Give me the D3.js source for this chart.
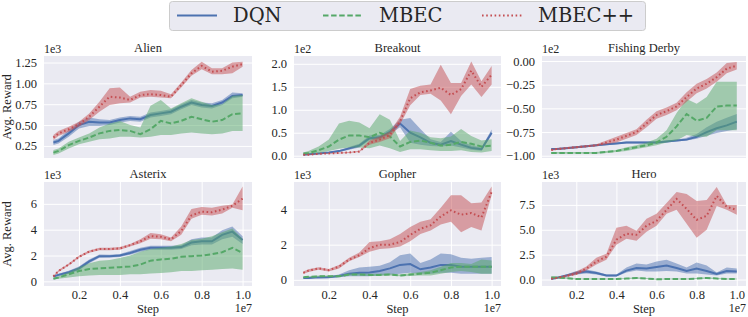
<!DOCTYPE html>
<html>
<head>
<meta charset="utf-8">
<script src="https://cdn.jsdelivr.net/npm/d3@7"></script>
<style>
  body { margin: 0; background: #fff; }
  text { font-family: "Liberation Serif", "Times New Roman", serif; fill: #262626; }
</style>
</head>
<body>
<svg id="chart" width="748" height="317"></svg>
<script>

// training steps (x 1e7)
var steps = [0.075, 0.1, 0.15, 0.2, 0.25, 0.3, 0.35, 0.4, 0.45, 0.5, 0.55, 0.6, 0.65, 0.7, 0.75, 0.8, 0.85, 0.9, 0.95, 1.0];

var methods = ["DQN", "MBEC", "MBEC++"];
var xTicks = [0.2, 0.4, 0.6, 0.8, 1.0];

// Alien (x1e3)
var alienDqn     = [.29,.31,.40,.50,.54,.53,.53,.56,.58,.57,.62,.64,.66,.72,.77,.74,.73,.77,.85,.86];
var alienDqnLo   = [.26,.28,.36,.46,.49,.49,.50,.53,.55,.54,.59,.61,.63,.69,.74,.71,.70,.74,.82,.84];
var alienDqnHi   = [.32,.34,.44,.54,.59,.57,.56,.59,.61,.60,.65,.67,.69,.75,.80,.77,.76,.80,.89,.88];
var alienMbec    = [.17,.19,.26,.31,.35,.40,.43,.44,.43,.39,.45,.55,.52,.55,.60,.57,.54,.56,.63,.64];
var alienMbecLo  = [.14,.16,.22,.27,.30,.33,.34,.36,.36,.35,.36,.38,.38,.40,.41,.40,.39,.40,.43,.43];
var alienMbecHi  = [.20,.22,.30,.35,.40,.47,.52,.55,.50,.47,.73,.80,.70,.76,.82,.78,.74,.75,.85,.86];
var alienPlus    = [.35,.40,.45,.51,.60,.72,.84,.83,.80,.86,.87,.86,.84,.98,1.12,1.21,1.14,1.15,1.20,1.23];
var alienPlusLo  = [.32,.37,.42,.48,.56,.66,.74,.76,.77,.83,.84,.83,.82,.95,1.09,1.17,1.11,1.11,1.12,1.20];
var alienPlusHi  = [.38,.43,.48,.54,.64,.78,.94,.95,.84,.90,.92,.91,.87,1.01,1.16,1.26,1.18,1.18,1.25,1.26];

// Breakout (x1e2)
var breakDqn     = [.02,.03,.05,.07,.10,.16,.22,.38,.40,.52,.70,.50,.40,.28,.24,.32,.24,.17,.14,.50];
var breakDqnLo   = [.01,.02,.04,.06,.08,.13,.18,.34,.36,.47,.62,.28,.24,.21,.20,.22,.18,.13,.11,.45];
var breakDqnHi   = [.03,.04,.06,.08,.12,.19,.26,.44,.45,.58,.78,.82,.58,.36,.30,.52,.32,.22,.18,.57];
var breakMbec    = [.05,.06,.12,.20,.35,.44,.44,.40,.50,.42,.20,.30,.33,.28,.22,.24,.30,.26,.20,.22];
var breakMbecLo  = [.03,.04,.06,.10,.15,.18,.18,.16,.22,.16,.08,.14,.14,.12,.10,.10,.12,.08,.07,.10];
var breakMbecHi  = [.07,.10,.20,.35,.70,.76,.72,.60,.90,.78,.32,.55,.50,.40,.38,.42,.58,.43,.33,.36];
var breakPlus    = [.02,.02,.04,.05,.06,.07,.09,.28,.35,.45,.75,1.25,1.38,1.42,1.48,1.32,1.45,1.85,1.50,1.76];
var breakPlusLo  = [.01,.01,.03,.04,.05,.06,.08,.24,.30,.38,.68,1.10,1.32,1.35,1.20,0.90,1.30,1.55,1.28,1.55];
var breakPlusHi  = [.03,.03,.05,.06,.07,.08,.11,.33,.42,.52,.85,1.45,1.52,1.55,1.98,1.58,1.58,2.05,1.62,1.95];

// Fishing Derby (x1e2)
var fishDqn      = [-.93,-.93,-.92,-.91,-.90,-.89,-.88,-.87,-.86,-.86,-.86,-.86,-.85,-.84,-.83,-.80,-.75,-.71,-.68,-.64];
var fishDqnLo    = [-.94,-.94,-.93,-.92,-.91,-.90,-.89,-.88,-.87,-.87,-.87,-.87,-.86,-.85,-.84,-.82,-.79,-.76,-.74,-.72];
var fishDqnHi    = [-.92,-.92,-.91,-.90,-.89,-.88,-.87,-.86,-.85,-.85,-.85,-.85,-.84,-.83,-.81,-.77,-.70,-.64,-.60,-.56];
var fishMbec     = [-.97,-.97,-.97,-.97,-.97,-.97,-.96,-.95,-.93,-.91,-.89,-.86,-.80,-.69,-.56,-.63,-.60,-.48,-.47,-.47];
var fishMbecLo   = [-.98,-.98,-.98,-.98,-.98,-.98,-.97,-.96,-.95,-.93,-.91,-.89,-.86,-.84,-.78,-.80,-.80,-.73,-.73,-.73];
var fishMbecHi   = [-.96,-.96,-.96,-.96,-.96,-.96,-.95,-.94,-.91,-.89,-.86,-.82,-.73,-.55,-.40,-.45,-.38,-.22,-.22,-.22];
var fishPlus     = [-.94,-.93,-.92,-.91,-.90,-.89,-.86,-.83,-.79,-.75,-.66,-.57,-.53,-.48,-.38,-.29,-.24,-.17,-.08,-.05];
var fishPlusLo   = [-.95,-.94,-.93,-.92,-.91,-.90,-.88,-.86,-.82,-.78,-.70,-.61,-.57,-.52,-.43,-.34,-.29,-.22,-.13,-.09];
var fishPlusHi   = [-.93,-.92,-.91,-.90,-.89,-.88,-.84,-.80,-.76,-.72,-.62,-.53,-.49,-.44,-.33,-.24,-.19,-.12,-.02,-.01];

// Asterix (x1e3)
var astDqn       = [.38,.50,.70,1.00,1.55,1.95,1.95,2.00,2.20,2.45,2.60,2.60,2.60,2.65,3.00,3.10,3.10,3.60,3.85,3.20];
var astDqnLo     = [.33,.42,.58,.85,1.40,1.82,1.85,1.88,2.05,2.30,2.45,2.45,2.45,2.50,2.80,2.85,2.85,3.25,3.45,2.90];
var astDqnHi     = [.43,.58,.82,1.15,1.70,2.08,2.05,2.12,2.35,2.60,2.75,2.75,2.75,2.80,3.25,3.40,3.40,3.95,4.25,3.50];
var astMbec      = [.20,.30,.55,.80,.95,1.00,1.05,1.10,1.15,1.30,1.60,1.70,1.75,1.90,1.95,2.00,2.10,2.25,2.60,2.20];
var astMbecLo    = [.15,.20,.30,.40,.45,.50,.50,.50,.55,.55,.60,.65,.70,.80,.80,.85,.90,.95,1.00,.90];
var astMbecHi    = [.25,.40,.70,1.10,1.40,1.60,1.65,1.80,2.00,2.30,2.50,2.60,2.70,2.90,3.20,3.30,3.50,3.80,4.10,3.30];
var astPlus      = [.38,.80,1.30,1.90,2.30,2.50,2.50,2.55,2.80,3.10,3.50,3.45,3.25,3.90,5.10,5.40,5.35,5.55,5.85,6.40];
var astPlusLo    = [.33,.72,1.22,1.82,2.22,2.40,2.40,2.45,2.70,2.95,3.30,3.25,3.10,3.60,4.85,5.15,5.10,5.25,5.70,5.50];
var astPlusHi    = [.43,.88,1.38,1.98,2.38,2.60,2.60,2.65,2.90,3.25,3.75,3.65,3.40,4.25,5.60,5.75,5.70,5.85,5.95,7.35];

// Gopher (x1e3)
var gopDqn       = [.10,.10,.14,.15,.22,.35,.40,.42,.50,.65,.85,.90,.60,.70,.85,.85,.75,.75,.75,.75];
var gopDqnLo     = [.08,.08,.11,.12,.15,.20,.20,.20,.25,.30,.35,.40,.35,.35,.40,.40,.35,.35,.35,.35];
var gopDqnHi     = [.12,.13,.17,.20,.30,.55,.70,.75,.80,1.00,1.40,1.50,.95,1.15,1.50,1.45,1.25,1.20,1.25,1.30];
var gopMbec      = [.15,.17,.20,.20,.20,.30,.30,.28,.28,.30,.25,.30,.35,.40,.55,.70,.75,.75,.75,.75];
var gopMbecLo    = [.12,.14,.16,.16,.16,.24,.24,.22,.22,.24,.20,.22,.25,.25,.35,.45,.50,.45,.35,.35];
var gopMbecHi    = [.18,.20,.24,.24,.24,.36,.36,.34,.34,.36,.30,.38,.45,.55,.75,.95,.95,.90,1.15,1.10];
var gopPlus      = [.40,.52,.65,.55,.75,1.15,1.40,1.80,2.00,2.00,2.15,2.55,2.90,3.10,3.60,3.95,3.70,3.80,3.55,5.00];
var gopPlusLo    = [.33,.44,.58,.48,.65,1.05,1.30,1.60,1.75,1.80,1.90,2.20,2.60,2.80,3.15,3.30,2.70,3.00,2.80,4.80];
var gopPlusHi    = [.47,.60,.72,.62,.85,1.25,1.55,2.15,2.20,2.30,2.60,3.00,3.30,3.45,4.10,4.80,4.80,4.35,4.40,5.30];

// Hero (x1e3)
var heroDqn      = [.05,.15,.40,.65,.80,.65,.40,.40,.90,1.15,1.10,1.25,1.40,1.15,.85,1.10,.85,.55,.85,.80];
var heroDqnLo    = [.02,.08,.30,.50,.60,.50,.30,.30,.70,.90,.80,.80,.85,.80,.60,.60,.50,.40,.60,.60];
var heroDqnHi    = [.08,.22,.50,.85,1.00,.80,.50,.50,1.20,1.60,1.50,1.80,2.00,1.60,1.20,1.70,1.40,.70,1.20,1.10];
var heroMbec     = [.20,.20,.15,.05,.05,.05,.05,.05,.10,.15,.10,.02,.05,.05,.05,.10,.15,.10,.05,.05];
var heroMbecLo   = [.10,.10,.08,.00,.00,.00,.00,.00,.05,.08,.05,-.03,.00,.00,.00,.05,.08,.05,.00,.00];
var heroMbecHi   = [.30,.30,.22,.10,.10,.10,.10,.10,.15,.22,.15,.07,.10,.10,.10,.15,.22,.15,.10,.10];
var heroPlus     = [.07,.15,.35,.60,1.10,1.80,2.30,4.00,4.60,4.50,5.40,5.90,7.00,8.10,7.10,6.00,6.40,8.40,7.30,7.00];
var heroPlusLo   = [.04,.10,.28,.45,.90,1.50,2.00,3.50,4.10,3.90,4.80,5.40,6.60,7.00,5.60,4.20,5.00,7.40,7.00,6.50];
var heroPlusHi   = [.10,.20,.45,.80,1.30,2.20,2.60,5.20,5.40,4.90,6.10,6.60,7.70,8.80,8.60,7.90,8.00,9.30,7.50,7.50];

// y tick values per game
var alienTicks = [0.25, 0.5, 0.75, 1.0, 1.25];
var breakTicks = [0, 0.5, 1.0, 1.5, 2.0];
var fishTicks  = [-1.0, -0.75, -0.5, -0.25, 0];
var astTicks   = [0, 2, 4, 6];
var gopTicks   = [0, 2, 4];
var heroTicks  = [0, 2.5, 5, 7.5];

var colors = {"DQN": "#4c72b0", "MBEC": "#55a868", "MBEC++": "#c44e52"};
var dashes = {"DQN": null, "MBEC": "5.5,2.6", "MBEC++": "1.6,2.6"};

var panels = [
    {title: "Alien", exp: "1e3", col: 0, row: 0, domain: [0.105, 1.328], ticks: alienTicks, fmt: ".2f",
     series: [[alienDqn, alienDqnLo, alienDqnHi], [alienMbec, alienMbecLo, alienMbecHi], [alienPlus, alienPlusLo, alienPlusHi]]},
    {title: "Breakout", exp: "1e2", col: 1, row: 0, domain: [-0.05, 2.17], ticks: breakTicks, fmt: ".1f",
     series: [[breakDqn, breakDqnLo, breakDqnHi], [breakMbec, breakMbecLo, breakMbecHi], [breakPlus, breakPlusLo, breakPlusHi]]},
    {title: "Fishing Derby", exp: "1e2", col: 2, row: 0, domain: [-1.024, 0.053], ticks: fishTicks, fmt: ".2f",
     series: [[fishDqn, fishDqnLo, fishDqnHi], [fishMbec, fishMbecLo, fishMbecHi], [fishPlus, fishPlusLo, fishPlusHi]]},
    {title: "Asterix", exp: "1e3", col: 0, row: 1, domain: [-0.36, 7.69], ticks: astTicks, fmt: "d",
     series: [[astDqn, astDqnLo, astDqnHi], [astMbec, astMbecLo, astMbecHi], [astPlus, astPlusLo, astPlusHi]]},
    {title: "Gopher", exp: "1e3", col: 1, row: 1, domain: [-0.35, 5.56], ticks: gopTicks, fmt: "d",
     series: [[gopDqn, gopDqnLo, gopDqnHi], [gopMbec, gopMbecLo, gopMbecHi], [gopPlus, gopPlusLo, gopPlusHi]]},
    {title: "Hero", exp: "1e3", col: 2, row: 1, domain: [-0.65, 9.8], ticks: heroTicks, fmt: ".1f",
     series: [[heroDqn, heroDqnLo, heroDqnHi], [heroMbec, heroMbecLo, heroMbecHi], [heroPlus, heroPlusLo, heroPlusHi]]}
];

var cols = [{l: 44, r: 252}, {l: 294, r: 501}, {l: 542, r: 746}];
var rows = [{t: 56, b: 158}, {t: 182, b: 286}];
var xDomain = [0.029, 1.046];

var svg = d3.select("#chart");

panels.forEach(function(p) {
    var c = cols[p.col], r = rows[p.row];
    var x = d3.scaleLinear().domain(xDomain).range([c.l, c.r]);
    var y = d3.scaleLinear().domain(p.domain).range([r.b, r.t]);
    var g = svg.append("g");

    g.append("rect")
        .attr("x", c.l).attr("y", r.t)
        .attr("width", c.r - c.l).attr("height", r.b - r.t)
        .attr("fill", "#eaeaf2");

    // horizontal grid
    g.append("g")
        .attr("transform", "translate(" + c.l + ",0)")
        .call(d3.axisLeft(y).tickValues(p.ticks).tickSize(-(c.r - c.l)).tickFormat(""))
        .call(function(a) {
            a.select(".domain").remove();
            a.selectAll("line").attr("stroke", "#fff").attr("stroke-width", 1);
        });

    // vertical grid only on the bottom row
    if (p.row == 1) {
        g.append("g")
            .attr("transform", "translate(0," + r.b + ")")
            .call(d3.axisBottom(x).tickValues(xTicks).tickSize(-(r.b - r.t)).tickFormat(""))
            .call(function(a) {
                a.select(".domain").remove();
                a.selectAll("line").attr("stroke", "#fff").attr("stroke-width", 1);
            });
    }

    p.series.forEach(function(s, i) {
        var m = methods[i];
        var area = d3.area()
            .x(function(d, j) { return x(steps[j]); })
            .y0(function(d, j) { return y(s[1][j]); })
            .y1(function(d, j) { return y(s[2][j]); });
        var line = d3.line()
            .x(function(d, j) { return x(steps[j]); })
            .y(function(d) { return y(d); });

        g.append("path")
            .attr("d", area(s[0]))
            .attr("fill", colors[m])
            .attr("fill-opacity", 0.5);
        g.append("path")
            .attr("d", line(s[0]))
            .attr("fill", "none")
            .attr("stroke", colors[m])
            .attr("stroke-width", 2)
            .attr("stroke-dasharray", dashes[m]);
    });

    // y tick labels
    g.append("g")
        .attr("transform", "translate(" + c.l + ",0)")
        .call(d3.axisLeft(y).tickValues(p.ticks).tickSize(0).tickPadding(7).tickFormat(d3.format(p.fmt)))
        .call(function(a) {
            a.select(".domain").remove();
            a.selectAll("text").style("font-family", "Liberation Serif").style("font-size", "12.5px").attr("fill", "#262626");
        });

    if (p.row == 1) {
        g.append("g")
            .attr("transform", "translate(0," + r.b + ")")
            .call(d3.axisBottom(x).tickValues(xTicks).tickSize(0).tickPadding(4).tickFormat(d3.format(".1f")))
            .call(function(a) {
                a.select(".domain").remove();
                a.selectAll("text").style("font-family", "Liberation Serif").style("font-size", "12.5px").attr("fill", "#262626");
            });
        g.append("text")
            .attr("x", (c.l + c.r) / 2).attr("y", 313)
            .attr("text-anchor", "middle")
            .style("font-size", "12.5px")
            .text("Step");
        g.append("text")
            .attr("x", c.r).attr("y", 312)
            .attr("text-anchor", "end")
            .style("font-size", "12px")
            .text("1e7");
    }

    g.append("text")
        .attr("x", (c.l + c.r) / 2).attr("y", r.t - 4)
        .attr("text-anchor", "middle")
        .style("font-size", "12.5px")
        .text(p.title);

    g.append("text")
        .attr("x", c.l).attr("y", r.t - 3)
        .style("font-size", "12px")
        .text(p.exp);

    if (p.col == 0) {
        g.append("text")
            .attr("transform", "translate(11," + (r.t + r.b) / 2 + ") rotate(-90)")
            .attr("text-anchor", "middle")
            .style("font-size", "12.5px")
            .text("Avg. Reward");
    }
});

// legend
var legend = svg.append("g").attr("class", "legend");
legend.append("rect")
    .attr("x", 169.5).attr("y", 1.5)
    .attr("width", 476).attr("height", 29)
    .attr("rx", 3)
    .attr("fill", "#eaeaf2")
    .attr("stroke", "#cccccc");

var legendX = [177, 323, 482];
methods.forEach(function(m, i) {
    legend.append("line")
        .attr("x1", legendX[i]).attr("x2", legendX[i] + 40)
        .attr("y1", 15.5).attr("y2", 15.5)
        .attr("stroke", colors[m])
        .attr("stroke-width", 2)
        .attr("stroke-dasharray", dashes[m]);
    legend.append("text")
        .attr("x", legendX[i] + 56).attr("y", 22)
        .style("font-family", "DejaVu Serif")
        .style("font-size", "19.5px")
        .style("font-weight", 300)
        .text(m);
});

</script>
</body>
</html>
